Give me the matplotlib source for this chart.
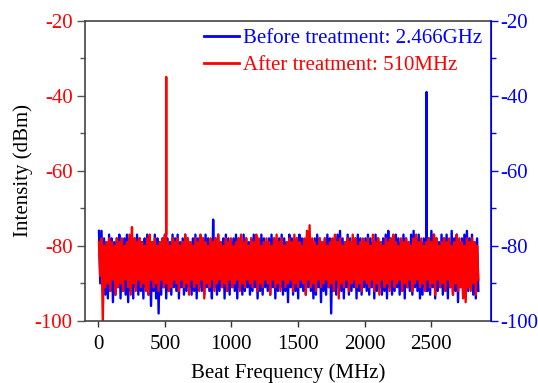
""" Beat frequency spectrum before / after treatment, dual y-axis """
import matplotlib
matplotlib.use("Agg")
import matplotlib.pyplot as plt
import numpy as np

plt.rcParams['font.family'] = ['Liberation Serif', 'DejaVu Serif']
plt.rcParams['axes.unicode_minus'] = False

# frequency span of the analyser trace (MHz)
f_start, f_stop = 5, 2855

# after treatment (red): upper / lower excursions of the noise band, dBm
red_upper = [
    -79, -78, -80, -79, -78, -79, -80, -78, -79, -78, -80, -79, -77, -75, -78,
    -79, -78, -79, -80, -78, -77, -79, -78, -80, -79, -78, -77, -79, -80, -78,
    -79, -78, -80, -79, -77, -78, -79, -80, -78, -79, -77, -78, -79, -80, -78,
    -79, -78, -77, -79, -80, -78, -79, -78, -80, -79, -78, -77, -79, -78, -80,
    -78, -79, -77, -78, -80, -79, -78, -79, -80, -78, -77, -79, -78, -80, -79,
    -78, -79, -77, -78, -79, -80, -78, -76, -74.5, -78, -79, -80, -78, -79, -78,
    -80, -79, -78, -77, -79, -78, -80, -79, -78, -79, -77, -78, -80, -79, -78,
    -79, -78, -80, -77, -79, -78, -79, -80, -78, -79, -78, -77, -79, -80, -78,
    -79, -78, -79, -80, -78, -77, -79, -78, -80, -79, -78, -79, -77, -78, -80,
    -79, -78, -79, -78, -80, -79, -77, -78, -79, -80, -78, -79, -78, -79, -80,
]
red_lower = [
    -88, -100, -91, -90, -92, -89, -93, -91, -90, -92, -89, -91, -93, -90, -92,
    -89, -91, -90, -92, -93, -89, -91, -90, -92, -89, -91, -90, -92, -91, -89,
    -90, -92, -89, -91, -90, -93, -89, -91, -90, -92, -89, -94, -90, -91, -89,
    -92, -90, -89, -91, -90, -92, -89, -91, -90, -89, -92, -90, -91, -89, -90,
    -91, -89, -92, -90, -91, -89, -90, -93, -89, -91, -90, -92, -89, -91, -90,
    -89, -92, -90, -91, -89, -90, -93, -89, -91, -90, -92, -89, -91, -90, -89,
    -91, -90, -92, -89, -94, -90, -91, -89, -92, -90, -89, -91, -90, -92, -89,
    -90, -91, -89, -92, -90, -93, -89, -91, -90, -92, -89, -91, -90, -89, -92,
    -90, -91, -89, -92, -90, -89, -91, -90, -92, -89, -91, -90, -93, -89, -91,
    -90, -92, -89, -91, -93, -90, -92, -91, -94, -95, -91, -92, -90, -93, -89,
]
red_peak_f, red_peak_db = 510, -35

# before treatment (blue)
blue_upper = [
    -76, -76, -78, -79, -77, -78, -79, -78, -77, -79, -78, -77, -78, -79, -78,
    -77, -78, -79, -78, -77, -78, -79, -77, -78, -79, -78, -77, -78, -79, -77,
    -78, -77, -79, -78, -77, -78, -79, -78, -77, -78, -79, -78, -77, -78, -79,
    -73, -78, -77, -79, -78, -77, -78, -79, -78, -77, -78, -79, -77, -78, -79,
    -78, -77, -78, -79, -77, -78, -79, -78, -77, -78, -79, -78, -77, -78, -79,
    -77, -78, -79, -78, -77, -78, -79, -77, -78, -79, -78, -77, -78, -79, -78,
    -77, -78, -79, -78, -77, -76, -78, -79, -77, -78, -79, -78, -77, -78, -79,
    -78, -77, -78, -79, -77, -78, -79, -78, -77, -76, -78, -79, -77, -78, -79,
    -77, -78, -79, -77, -76, -78, -77, -79, -78, -77, -78, -76, -77, -78, -79,
    -77, -78, -77, -79, -76, -78, -77, -79, -78, -77, -76, -78, -77, -79, -78,
]
blue_lower = [
    -90, -92, -93, -94, -92, -95, -93, -91, -94, -92, -93, -95, -92, -94, -91,
    -93, -92, -94, -91, -93, -96, -92, -94, -98, -93, -91, -94, -92, -93, -91,
    -92, -94, -91, -93, -92, -91, -93, -92, -94, -91, -92, -93, -91, -92, -94,
    -91, -93, -92, -91, -94, -92, -93, -91, -92, -94, -91, -93, -92, -91, -93,
    -92, -91, -94, -92, -93, -91, -92, -93, -91, -94, -92, -91, -93, -92, -95,
    -91, -93, -92, -94, -91, -92, -93, -91, -92, -94, -93, -91, -95, -92, -93,
    -91, -98, -92, -93, -91, -92, -94, -91, -93, -92, -91, -94, -92, -93, -91,
    -92, -93, -91, -94, -92, -91, -93, -92, -94, -91, -93, -92, -91, -93, -92,
    -94, -91, -92, -93, -91, -92, -94, -93, -91, -92, -93, -91, -94, -92, -91,
    -93, -92, -94, -91, -93, -92, -95, -91, -93, -94, -92, -91, -93, -94, -92,
]
blue_peak_f, blue_peak_db = 2466, -39


def build_trace(upper, lower, peak_f, peak_db):
    """ Interleave the band excursions into one trace and drop the carrier peak in """
    vals = np.empty(2 * len(upper))
    vals[0::2] = upper
    vals[1::2] = lower
    freqs = np.linspace(f_start, f_stop, len(vals))
    i = np.searchsorted(freqs, peak_f)
    freqs = np.insert(freqs, i, [peak_f - 0.1, peak_f, peak_f + 0.1])
    vals = np.insert(vals, i, [vals[i - 1], peak_db, vals[i]])
    return freqs, vals


fig = plt.figure(figsize=(5.38, 3.83), dpi=100)
ax = fig.add_axes([0.158, 0.162, 0.7546, 0.784])

bf, bv = build_trace(blue_upper, blue_lower, blue_peak_f, blue_peak_db)
rf, rv = build_trace(red_upper, red_lower, red_peak_f, red_peak_db)
ax.plot(bf, bv, color='#0000ff', lw=1.7, label='Before treatment: 2.466GHz')
ax.plot(rf, rv, color='#ff0000', lw=1.7, label='After treatment: 510MHz')

ax.set_xlim(-100, 2950)
ax.set_ylim(-100, -20)
ax.set_xticks([0, 500, 1000, 1500, 2000, 2500])
ax.set_yticks([-100, -80, -60, -40, -20])
ax.set_yticks([-90, -70, -50, -30], minor=True)
ax.tick_params(axis='y', which='major', colors='#555555', labelcolor='#ff0000', labelsize=15, length=6, width=1, pad=3)
ax.tick_params(axis='y', which='minor', colors='#555555', length=3.5, width=1)
ax.tick_params(axis='x', colors='#333333', labelcolor='black', labelsize=15, length=4, width=1, pad=6)
ax.set_xlabel('Beat Frequency (MHz)', fontsize=15, labelpad=7)
ax.set_ylabel('Intensity (dBm)', fontsize=15, labelpad=1)
for s in ['left', 'bottom', 'top']:
    ax.spines[s].set_color('#444444')
    ax.spines[s].set_linewidth(1.2)

ax2 = ax.twinx()
ax2.set_ylim(-100, -20)
ax2.set_yticks([-100, -80, -60, -40, -20])
ax2.set_yticks([-90, -70, -50, -30], minor=True)
ax2.tick_params(axis='y', which='major', colors='#0000ff', labelsize=15, length=5, width=1, pad=1.5)
ax2.tick_params(axis='y', which='minor', colors='#0000ff', length=3.5, width=1)
ax2.spines['right'].set_color('#0000ff')
ax2.spines['right'].set_linewidth(1.2)
for s in ['left', 'bottom', 'top']:
    ax2.spines[s].set_visible(False)

leg = ax.legend(loc='upper right', bbox_to_anchor=(1.01, 1.015), frameon=False, fontsize=15,
                handlelength=1.7, handletextpad=0.2, labelspacing=0.35, borderaxespad=0.2)
for text, line in zip(leg.get_texts(), leg.get_lines()):
    text.set_color(line.get_color())
    line.set_linewidth(2)

fig.savefig('out.png', dpi=100)
